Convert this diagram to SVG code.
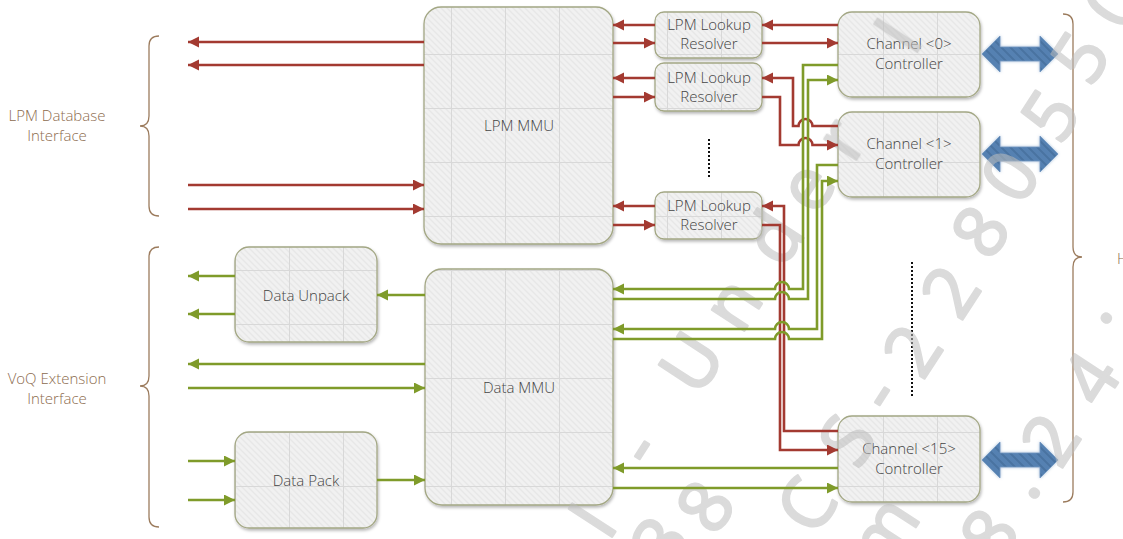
<svg xmlns="http://www.w3.org/2000/svg" width="1123" height="539" viewBox="0 0 1123 539">
<style>
.box{fill:url(#tex);stroke:#a3a784;stroke-width:1.3;filter:url(#shadow)}
.t{font-family:"Open Sans","Liberation Sans",sans-serif;font-weight:300;font-size:15px;fill:#444444;text-anchor:middle}
.lbl{font-family:"Open Sans","Liberation Sans",sans-serif;font-weight:300;font-size:15px;fill:#8c6b4e;text-anchor:middle}
.brace{fill:none;stroke:#9c7c5e;stroke-width:1.3}
.ra{fill:none;stroke:#a33a31;stroke-width:2.6;marker-end:url(#mr)}
.ga{fill:none;stroke:#7f9b2a;stroke-width:2.6;marker-end:url(#mg)}
.dot{stroke:#111;stroke-width:2;stroke-dasharray:2 2}
.wm text{font-family:"Open Sans","Liberation Sans",sans-serif;font-size:72px;fill:#bdbdbd;stroke:#bdbdbd;stroke-width:2.5;stroke-linejoin:round;text-anchor:middle}
.blue{fill:url(#bhatch);stroke:#6f95c0;stroke-width:0.8;filter:url(#glow)}
</style>
<defs>
<pattern id="hatch" patternUnits="userSpaceOnUse" width="6" height="6">
<rect width="6" height="6" fill="#f1f1f1"/>
<path d="M-1,-1 L7,7 M-1,5 L1,7 M5,-1 L7,1" stroke="#e7e7e7" stroke-width="1.3"/>
</pattern>
<pattern id="tex" patternUnits="userSpaceOnUse" x="19" y="0" width="54" height="54">
<rect width="54" height="54" fill="url(#hatch)"/>
<rect x="0" y="0" width="1" height="54" fill="#d8d8d8"/>
<rect x="0" y="0" width="54" height="1" fill="#d8d8d8"/>
</pattern>
<pattern id="bhatch" patternUnits="userSpaceOnUse" width="9" height="9">
<rect width="9" height="9" fill="#5581b2"/>
<path d="M-1,-1 L10,10 M-1,8 L1,10 M8,-1 L10,1" stroke="#4a73a1" stroke-width="2"/>
</pattern>
<filter id="shadow" x="-10%" y="-10%" width="125%" height="125%">
<feDropShadow dx="1" dy="2" stdDeviation="1.5" flood-color="#000" flood-opacity="0.28"/>
</filter>
<filter id="glow" x="-20%" y="-30%" width="140%" height="160%">
<feDropShadow dx="0" dy="0" stdDeviation="1.6" flood-color="#9db6d3" flood-opacity="0.9"/>
</filter>
<marker id="mr" markerUnits="userSpaceOnUse" markerWidth="12" markerHeight="12" refX="11" refY="5.5" orient="auto">
<path d="M0,0 L11,5.5 L0,11 z" fill="#a33a31"/>
</marker>
<marker id="mg" markerUnits="userSpaceOnUse" markerWidth="12" markerHeight="12" refX="11" refY="5.5" orient="auto">
<path d="M0,0 L11,5.5 L0,11 z" fill="#7f9b2a"/>
</marker>
<path id="dbl" d="M982,0 L1000,-18 L1000,-7 L1040,-7 L1040,-18 L1058,0 L1040,18 L1040,7 L1000,7 L1000,18 z"/>
</defs>

<g id="lpm-database-interface">
<path class="brace" d="M159,36 Q149,36 149,46 V116 Q149,126 140,126 Q149,126 149,136 V206 Q149,216 159,216"/>
<text class="lbl" x="57" y="121">LPM Database</text>
<text class="lbl" x="57" y="141">Interface</text>
</g>
<g id="voq-extension-interface">
<path class="brace" d="M159,247 Q149,247 149,257 V376 Q149,386 140,386 Q149,386 149,396 V517 Q149,527 159,527"/>
<text class="lbl" x="57" y="384">VoQ Extension</text>
<text class="lbl" x="57" y="404">Interface</text>
</g>
<g id="host-interface">
<path class="brace" d="M1063,14 Q1073,14 1073,24 V247 Q1073,257 1082,257 Q1073,257 1073,267 V492 Q1073,502 1063,502"/>
<text class="lbl" x="1117" y="264" style="text-anchor:start">H</text>
</g>

<g id="lpm-mmu">
<rect class="box" x="424" y="7" width="189" height="237" rx="17"/>
<text class="t" x="519" y="131">LPM MMU</text>
</g>
<g id="data-mmu">
<rect class="box" x="425" y="269" width="188" height="236" rx="17"/>
<text class="t" x="519" y="393">Data MMU</text>
</g>
<g id="resolver-0">
<rect class="box" x="655" y="12" width="107" height="46" rx="9"/>
<text class="t" x="709" y="30">LPM Lookup</text>
<text class="t" x="709" y="49">Resolver</text>
</g>
<g id="resolver-1">
<rect class="box" x="655" y="63" width="107" height="48" rx="9"/>
<text class="t" x="709" y="83">LPM Lookup</text>
<text class="t" x="709" y="102">Resolver</text>
</g>
<g id="resolver-15">
<rect class="box" x="655" y="192" width="107" height="47" rx="9"/>
<text class="t" x="709" y="211">LPM Lookup</text>
<text class="t" x="709" y="230">Resolver</text>
</g>
<g id="channel-0">
<rect class="box" x="838" y="12" width="142" height="85" rx="14"/>
<text class="t" x="909" y="49">Channel &lt;0&gt;</text>
<text class="t" x="909" y="69">Controller</text>
<use href="#dbl" class="blue" y="54"/>
</g>
<g id="channel-1">
<rect class="box" x="838" y="112" width="142" height="85" rx="14"/>
<text class="t" x="909" y="149">Channel &lt;1&gt;</text>
<text class="t" x="909" y="169">Controller</text>
<use href="#dbl" class="blue" y="154"/>
</g>
<g id="channel-15">
<rect class="box" x="838" y="416" width="142" height="86" rx="14"/>
<text class="t" x="909" y="454">Channel &lt;15&gt;</text>
<text class="t" x="909" y="474">Controller</text>
<use href="#dbl" class="blue" y="460"/>
</g>
<g id="data-unpack">
<rect class="box" x="235" y="247" width="142" height="95" rx="14"/>
<text class="t" x="306" y="301">Data Unpack</text>
</g>
<g id="data-pack">
<rect class="box" x="235" y="432" width="142" height="96" rx="14"/>
<text class="t" x="306" y="486">Data Pack</text>
</g>
<g id="ellipsis">
<line class="dot" x1="709" y1="139" x2="709" y2="177"/>
<line class="dot" x1="912" y1="262" x2="912" y2="397"/>
</g>

<g id="watermark" class="wm" opacity="0.55">
<text transform="translate(592,520) rotate(-57)" dy="26">I</text>
<text transform="translate(645,452) rotate(-57)" dy="16">-</text>
<text transform="translate(691,362) rotate(-57)" dy="26">U</text>
<text transform="translate(737,307) rotate(-57)" dy="19">n</text>
<text transform="translate(773,237) rotate(-57)" dy="26">d</text>
<text transform="translate(811,190) rotate(-57)" dy="19">e</text>
<text transform="translate(845,142) rotate(-57)" dy="19">r</text>
<text transform="translate(897,35) rotate(-57)" dy="26">I</text>
<text transform="translate(660,542) rotate(-57)" dy="26">3</text>
<text transform="translate(705,506) rotate(-57)" dy="26">8</text>
<text transform="translate(806,505) rotate(-57)" dy="26">C</text>
<text transform="translate(847,440) rotate(-57)" dy="26">S</text>
<text transform="translate(885,398) rotate(-57)" dy="16">-</text>
<text transform="translate(912,350) rotate(-57)" dy="26">2</text>
<text transform="translate(950,291) rotate(-57)" dy="26">2</text>
<text transform="translate(980,231) rotate(-57)" dy="26">8</text>
<text transform="translate(1010,176) rotate(-57)" dy="26">0</text>
<text transform="translate(1050,115) rotate(-57)" dy="26">5</text>
<text transform="translate(1080,57) rotate(-57)" dy="26">5</text>
<text transform="translate(1113,2) rotate(-57)" dy="26">0</text>
<text transform="translate(888,535) rotate(-57)" dy="19">m</text>
<text transform="translate(989,534) rotate(-57)" dy="26">8</text>
<text transform="translate(1034,493) rotate(-57)" dy="4">.</text>
<text transform="translate(1050,439) rotate(-57)" dy="26">2</text>
<text transform="translate(1090,378) rotate(-57)" dy="26">4</text>
<text transform="translate(1106,318) rotate(-57)" dy="4">.</text>
</g>

<g id="connectors">
<path class="ra" d="M424,42 H188"/>
<path class="ra" d="M424,65 H188"/>
<path class="ra" d="M188,185 H424"/>
<path class="ra" d="M188,209 H424"/>
<path class="ra" d="M655,25 H613"/>
<path class="ra" d="M613,43 H655"/>
<path class="ra" d="M655,78 H613"/>
<path class="ra" d="M613,97 H655"/>
<path class="ra" d="M655,206 H613"/>
<path class="ra" d="M613,225 H655"/>
<path class="ra" d="M838,25 H762"/>
<path class="ra" d="M762,43 H838"/>
<path class="ra" d="M838,126 H812.5 A7,7 0 0 0 798.5,126 H793 V78 H762"/>
<path class="ra" d="M762,97 H780 V145 H798.5 A7,7 0 0 1 812.5,145 H838"/>
<path class="ra" d="M838,431 H784 V206 H762"/>
<path class="ra" d="M762,225 H780 V450 H838"/>
<path class="ga" d="M838,65 H803 V289 H789 A7,7 0 0 0 775,289 H613"/>
<path class="ga" d="M613,299 H775 A7,7 0 0 1 789,299 H808 V80 H838"/>
<path class="ga" d="M838,165 H817 V329 H789 A7,7 0 0 0 775,329 H613"/>
<path class="ga" d="M613,339 H775 A7,7 0 0 1 789,339 H822 V181 H838"/>
<path class="ga" d="M838,468 H613"/>
<path class="ga" d="M613,488 H838"/>
<path class="ga" d="M425,295 H377"/>
<path class="ga" d="M235,276 H188"/>
<path class="ga" d="M235,314 H188"/>
<path class="ga" d="M425,364 H188"/>
<path class="ga" d="M188,388 H425"/>
<path class="ga" d="M188,461 H235"/>
<path class="ga" d="M188,500 H235"/>
<path class="ga" d="M377,480 H425"/>
</g>
</svg>
